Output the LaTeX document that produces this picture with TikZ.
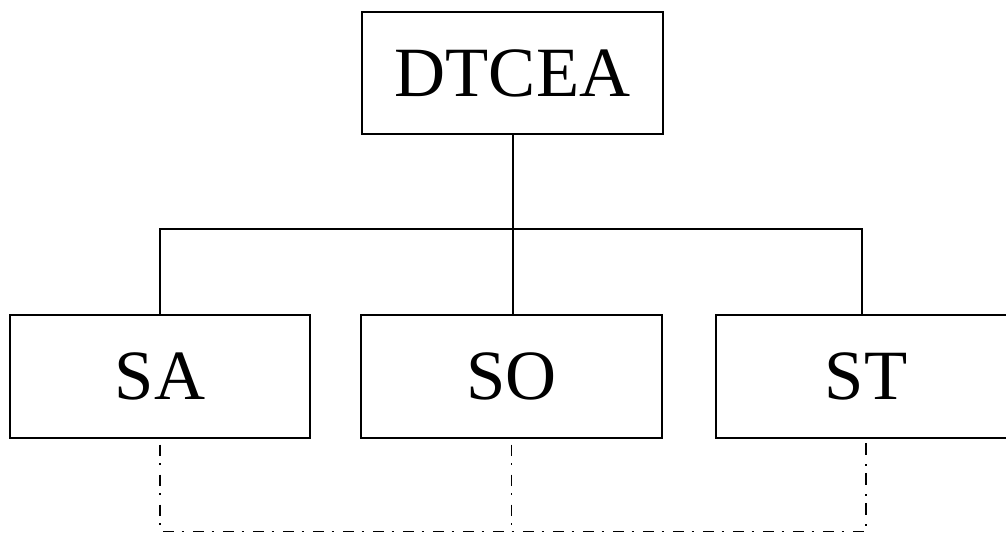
\documentclass[tikz,border=0pt]{standalone}
\usepackage{fontspec}
\setmainfont{Liberation Serif}
\begin{document}
\begin{tikzpicture}[x=0.75pt,y=-0.75pt,
  box/.style={draw,line width=1.5pt,minimum width=225.5pt,minimum height=91.5pt,inner sep=0pt,font=\fontsize{53}{60}\selectfont},
  link/.style={line width=1.5pt},
  dd/.style={line width=1.4pt,dash pattern=on 8.5pt off 5.5pt on 1.5pt off 7pt,dash phase=18pt}]
\useasboundingbox (0,0) rectangle (1006,534);
\node[box] (top) at (512.5,73) {DTCEA};
\node[box] (sa) at (160,376.5) {SA};
\node[box] (so) at (511.5,376.5) {SO};
\node[box] (st) at (866,376.5) {ST};
\coordinate (hl) at (160,229);
\coordinate (hr) at (862,229);
\coordinate (bl) at (160,531.5);
\coordinate (br) at (866,531.5);
\draw[link] (top.south) -- (top.south |- so.north);
\draw[link] (sa.north) -- (hl) -- (hr) -- (hr |- st.north);
\draw[dd] (sa.south) -- (bl) -- (br) -- (st.south);
\draw[dd] (so.south) -- (so.south |- bl);
\end{tikzpicture}
\end{document}
